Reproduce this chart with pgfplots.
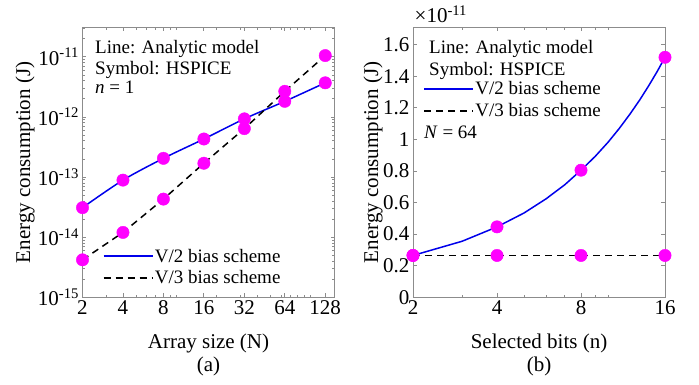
\documentclass[border=0pt]{standalone}
\usepackage{pgfplots}
\pgfplotsset{compat=1.18}
\usepackage{fontspec}
\setmainfont{Liberation Serif}
\definecolor{mag}{RGB}{255,0,255}
\definecolor{mblue}{RGB}{0,0,235}
\definecolor{axgray}{RGB}{140,140,140}
\begin{document}
\begin{tikzpicture}
\useasboundingbox (-82.5pt,-87.7pt) rectangle (616.5pt,297.3pt);
\pgfplotsset{
  every axis/.append style={
    scale only axis, width=252pt, height=270pt,
    axis line style={axgray, line width=0.8pt},
    every tick/.append style={axgray, line width=0.8pt},
    major tick length=4pt, minor tick length=2.5pt,
    tick align=inside,
    tick label style={font=\fontsize{21}{24}\selectfont, black},
    label style={font=\fontsize{21}{24}\selectfont},
    clip=false,
    legend style={draw=none, fill=none, inner sep=0pt, row sep=4pt,
      font=\fontsize{19}{22}\selectfont, nodes={inner sep=1.5pt}},
    legend cell align=left,
    legend image code/.code={\draw[#1] (0pt,0pt) -- (49pt,0pt);},
    extra x tick style={major tick length=2.5pt, xticklabel=\empty},
  },
  vtwo/.style={mblue, line width=1.5pt},
  vthree/.style={black, line width=1.5pt, dash pattern=on 7pt off 5pt},
  dots/.style={only marks, mark=*, mark size=6.2pt, mark options={fill=mag, draw=mag}},
}
% ---------------- (a) ----------------
\begin{axis}[
  xmode=log, ymode=log, log basis x=2,
  xmin=2, xmax=150, ymin=1e-15, ymax=3.1e-11,
  xtick={2,4,8,16,32,64,128}, xticklabels={2,4,8,16,32,64,128},
  extra x ticks={3,5,6,7,9,10,20,30,40,50,60,70,80,90,100},
  ytick={1e-15,1e-14,1e-13,1e-12,1e-11},
  yticklabels={10\textsuperscript{-15},10\textsuperscript{-14},10\textsuperscript{-13},10\textsuperscript{-12},10\textsuperscript{-11}},
  minor ytick={2e-15,3e-15,4e-15,5e-15,6e-15,7e-15,8e-15,9e-15,
               2e-14,3e-14,4e-14,5e-14,6e-14,7e-14,8e-14,9e-14,
               2e-13,3e-13,4e-13,5e-13,6e-13,7e-13,8e-13,9e-13,
               2e-12,3e-12,4e-12,5e-12,6e-12,7e-12,8e-12,9e-12,
               2e-11,3e-11},
  xlabel={Array size (N)},
  xlabel style={at={(axis description cs:0.5,0)}, anchor=base, yshift=-51.5pt},
  ylabel={Energy consumption (J)},
  ylabel style={at={(axis description cs:0,0.5)}, anchor=center, yshift=57.5pt},
  legend style={at={(0.08,0.112)}, anchor=west},
]
\addplot[vtwo, smooth] coordinates {(2,3.1e-14) (4,8.9e-14) (8,2.05e-13) (16,4.3e-13) (32,9.3e-13) (64,1.82e-12) (128,3.7e-12)};
\addlegendentry{V/2 bias scheme}
\addplot[vthree] coordinates {(2,4.2e-15) (4,1.2e-14) (8,4.3e-14) (16,1.7e-13) (32,6.4e-13) (64,2.67e-12) (128,1.05e-11)};
\addlegendentry{V/3 bias scheme}
\addplot[dots, forget plot] coordinates {(2,3.1e-14) (4,8.9e-14) (8,2.05e-13) (16,4.3e-13) (32,9.3e-13) (64,1.82e-12) (128,3.7e-12)};
\addplot[dots, forget plot] coordinates {(2,4.2e-15) (4,1.2e-14) (8,4.3e-14) (16,1.7e-13) (32,6.4e-13) (64,2.67e-12) (128,1.05e-11)};
\end{axis}
% ---------------- (b) ----------------
\begin{axis}[
  at={(330.5pt,0pt)},
  xmode=log, log basis x=2,
  xmin=2, xmax=16, ymin=0, ymax=1.71,
  xtick={2,4,8,16}, xticklabels={2,4,8,16},
  extra x ticks={3,5,6,7,9,10},
  ytick={0,0.2,0.4,0.6,0.8,1,1.2,1.4,1.6},
  yticklabels={0,0.2,0.4,0.6,0.8,1,1.2,1.4,1.6},
  xlabel={Selected bits (n)},
  xlabel style={at={(axis description cs:0.5,0)}, anchor=base, yshift=-51.5pt},
  ylabel={Energy consumption (J)},
  ylabel style={at={(axis description cs:0,0.5)}, anchor=center, yshift=40pt},
  legend style={at={(0.04,0.731)}, anchor=west},
]
\addplot[vtwo] coordinates {(2,0.265) (3,0.355) (4,0.446) (5,0.534) (6,0.624) (7,0.713) (8,0.805) (9,0.893) (10,0.982) (11,1.072) (12,1.162) (13,1.251) (14,1.341) (15,1.430) (16,1.520)};
\addlegendentry{V/2 bias scheme}
\addplot[vthree] coordinates {(2,0.265) (4,0.265) (8,0.265) (16,0.265)};
\addlegendentry{V/3 bias scheme}
\addplot[dots, forget plot] coordinates {(2,0.265) (4,0.446) (8,0.805) (16,1.52)};
\addplot[dots, forget plot] coordinates {(2,0.265) (4,0.265) (8,0.265) (16,0.265)};
\end{axis}
% annotations
\begin{scope}[every node/.style={inner sep=0pt, font=\fontsize{19}{22}\selectfont}]
\node[anchor=base west] at (12.5pt,243.3pt) {Line: Analytic model};
\node[anchor=base west] at (12.5pt,222.3pt) {Symbol: HSPICE};
\node[anchor=base west] at (12.5pt,203.3pt) {\textit{n} = 1};
\node[anchor=base west] at (346.5pt,243.3pt) {Line: Analytic model};
\node[anchor=base west] at (346.5pt,221.3pt) {Symbol: HSPICE};
\node[anchor=base west] at (341.5pt,158.3pt) {\textit{N} = 64};
\end{scope}
\node[anchor=base west, inner sep=0pt, font=\fontsize{21}{24}\selectfont] at (332pt,274.3pt) {×10\textsuperscript{-11}};
\node[anchor=base, inner sep=0pt, font=\fontsize{21}{24}\selectfont] at (126pt,-74.7pt) {(a)};
\node[anchor=base, inner sep=0pt, font=\fontsize{21}{24}\selectfont] at (456.5pt,-74.7pt) {(b)};
\end{tikzpicture}
\end{document}
